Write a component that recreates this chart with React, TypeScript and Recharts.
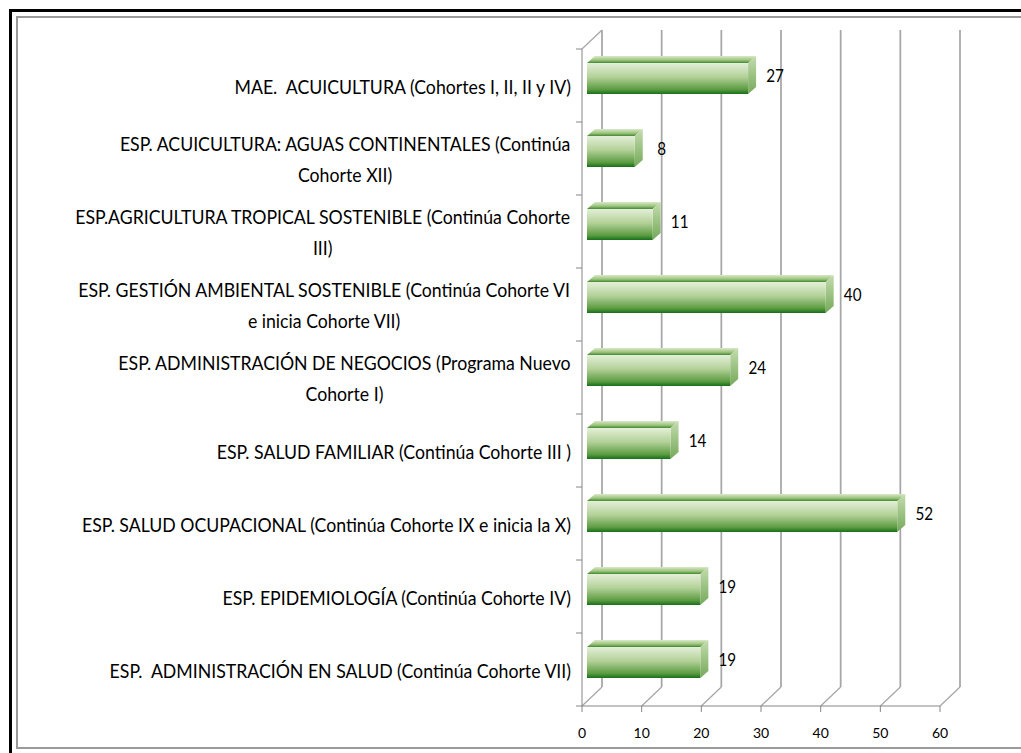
import React from "react";
import { BarChart, Bar, XAxis, YAxis, CartesianGrid, LabelList } from "recharts";

// ---- data ----
const categories: string[] = [
  "MAE.  ACUICULTURA (Cohortes I, II, II y IV)",
  "ESP. ACUICULTURA: AGUAS CONTINENTALES (Continúa\nCohorte XII)",
  "ESP.AGRICULTURA TROPICAL SOSTENIBLE (Continúa Cohorte\nIII)",
  "ESP. GESTIÓN AMBIENTAL SOSTENIBLE (Continúa Cohorte VI\ne inicia Cohorte VII)",
  "ESP. ADMINISTRACIÓN DE NEGOCIOS (Programa Nuevo\nCohorte I)",
  "ESP. SALUD FAMILIAR (Continúa Cohorte III )",
  "ESP. SALUD OCUPACIONAL (Continúa Cohorte IX e inicia la X)",
  "ESP. EPIDEMIOLOGÍA (Continúa Cohorte IV)",
  "ESP.  ADMINISTRACIÓN EN SALUD (Continúa Cohorte VII)",
];
const values: number[] = [27, 8, 11, 40, 24, 14, 52, 19, 19];
const xTicks: number[] = [0, 10, 20, 30, 40, 50, 60];

const data = categories.map((name, i) => ({ name, value: values[i] }));

// ---- layout / style constants ----
const W = 1021;
const H = 753;
const PLOT_LEFT = 582;
const PLOT_TOP = 49;
const PLOT_RIGHT = 940;
const PLOT_BOTTOM = 706;
const BAND = (PLOT_BOTTOM - PLOT_TOP) / categories.length;
const DX = 20; // 3D depth of the chart walls
const DY = 19;
const BDX = 8; // 3D depth of bars
const BDY = 7;
const AXIS = "#868686";
const GRID = "#a6a6a6";
const FONT = "Lato, 'Open Sans', sans-serif";
const CAT_SIZE = 20;
const CAT_SX = 0.885;
const LINE_H = 30.5;
const CAP = 14.4;
const TEXT_RIGHT = PLOT_LEFT - 11;

let ctx: CanvasRenderingContext2D | null = null;
function measure(text: string, size: number): number {
  if (!ctx) ctx = document.createElement("canvas").getContext("2d");
  if (!ctx) return text.length * size * 0.5;
  ctx.font = `${size}px Lato`;
  return ctx.measureText(text).width;
}

const YTick = (props: any) => {
  const { y, payload } = props;
  const label = String(payload.value);
  const lines = label.split("\n");
  const n = lines.length;
  const wMax = Math.max(...lines.map((l) => measure(l, CAT_SIZE)));
  const centerY = y + 1;
  const first = centerY - ((n - 1) * LINE_H) / 2 + CAP / 2;
  const isLast = label === categories[categories.length - 1];
  return (
    <g>
      <line x1={PLOT_LEFT - 6} x2={PLOT_LEFT} y1={y - BAND / 2} y2={y - BAND / 2} stroke={AXIS} />
      {isLast && (
        <line x1={PLOT_LEFT - 6} x2={PLOT_LEFT} y1={y + BAND / 2} y2={y + BAND / 2} stroke={AXIS} />
      )}
      <g transform={`translate(${TEXT_RIGHT},0) scale(${CAT_SX},1)`}>
        {lines.map((l, i) => (
          <text
            key={i}
            x={n > 1 ? -wMax / 2 : 0}
            y={first + i * LINE_H}
            textAnchor={n > 1 ? "middle" : "end"}
            fontFamily={FONT}
            fontSize={CAT_SIZE}
            fill="#000"
            style={{ whiteSpace: "pre" }}
          >
            {l}
          </text>
        ))}
      </g>
    </g>
  );
};

const XTick = (props: any) => {
  const { x, payload } = props;
  return (
    <text x={x} y={PLOT_BOTTOM + 32} textAnchor="middle" fontFamily={FONT} fontSize={14} fill="#000">
      {payload.value}
    </text>
  );
};

const GridLine = (props: any) => {
  const { x1, y1, y2 } = props;
  const x = x1;
  return (
    <g>
      <line x1={x + DX} x2={x + DX} y1={y1 - DY} y2={y2 - DY} stroke={GRID} strokeWidth={1.75} />
      <line x1={x} y1={y2} x2={x + DX} y2={y2 - DY} stroke={GRID} strokeWidth={1.25} />
      {Math.abs(x - PLOT_LEFT) < 1 && (
        <line x1={x} y1={y1} x2={x + DX} y2={y1 - DY} stroke={GRID} strokeWidth={1.25} />
      )}
    </g>
  );
};

const Bar3D = (props: any) => {
  const { x, y, width, height, index } = props;
  const fx = x + 5;
  const fy = y - 7;
  const id = `b${index}`;
  return (
    <g>
      <defs>
        <linearGradient id={`${id}f`} x1="0" y1="0" x2="0" y2="1">
          <stop offset="0" stopColor="#e4efd9" />
          <stop offset="0.45" stopColor="#b3d198" />
          <stop offset="0.85" stopColor="#5c9c42" />
          <stop offset="1" stopColor="#17701a" />
        </linearGradient>
        <linearGradient id={`${id}t`} x1="0" y1="0" x2="0" y2="1">
          <stop offset="0" stopColor="#d9e9c8" />
          <stop offset="0.6" stopColor="#9cc37c" />
          <stop offset="1" stopColor="#3f8a2e" />
        </linearGradient>
        <linearGradient id={`${id}s`} x1="0" y1="0" x2="0" y2="1">
          <stop offset="0" stopColor="#c3dcad" />
          <stop offset="1" stopColor="#75a95a" />
        </linearGradient>
      </defs>
      <polygon
        points={`${fx},${fy} ${fx + BDX},${fy - BDY} ${fx + width + BDX},${fy - BDY} ${fx + width},${fy}`}
        fill={`url(#${id}t)`}
      />
      <polygon
        points={`${fx + width},${fy} ${fx + width + BDX},${fy - BDY} ${fx + width + BDX},${fy + height - BDY} ${fx + width},${fy + height}`}
        fill={`url(#${id}s)`}
      />
      <rect x={fx} y={fy} width={width} height={height} fill={`url(#${id}f)`} />
    </g>
  );
};

const ValueLabel = (props: any) => {
  const { x, y, width, height, value } = props;
  const cx = x + width + 32;
  const cy = y + height / 2 - 10;
  return (
    <g transform={`translate(${cx},${cy}) scale(0.87,1)`}>
      <text x={0} y={6} textAnchor="middle" fontFamily={FONT} fontSize={17.5} fill="#000">
        {value}
      </text>
    </g>
  );
};

export default function App() {
  return (
    <div style={{ position: "fixed", left: 0, top: 0, width: W, height: H, overflow: "hidden", background: "#fff" }}>
      <div
        style={{
          position: "absolute",
          left: 9,
          top: 9,
          width: 1100,
          height: 800,
          border: "3px solid #000",
          boxSizing: "border-box",
        }}
      />
      <div
        style={{
          position: "absolute",
          left: 16,
          top: 16,
          width: 1100,
          height: 733,
          border: "2px solid #9a9a9a",
          boxSizing: "border-box",
        }}
      />
      <div style={{ position: "absolute", left: 0, top: 0 }}>
        <BarChart
          width={W}
          height={H}
          data={data}
          layout="vertical"
          margin={{ top: PLOT_TOP, right: W - PLOT_RIGHT, bottom: 0, left: 0 }}
          barSize={31}
        >
          <CartesianGrid horizontal={false} vertical={GridLine} />
          <XAxis
            type="number"
            domain={[0, 60]}
            ticks={xTicks}
            height={H - PLOT_BOTTOM}
            axisLine={{ stroke: AXIS }}
            tickLine={{ stroke: AXIS }}
            tickSize={6}
            tick={XTick}
            interval={0}
          />
          <YAxis
            type="category"
            dataKey="name"
            width={PLOT_LEFT}
            axisLine={{ stroke: AXIS }}
            tickLine={false}
            tick={YTick}
            interval={0}
          />
          <Bar dataKey="value" shape={Bar3D} isAnimationActive={false}>
            <LabelList dataKey="value" content={ValueLabel} />
          </Bar>
        </BarChart>
      </div>
    </div>
  );
}
